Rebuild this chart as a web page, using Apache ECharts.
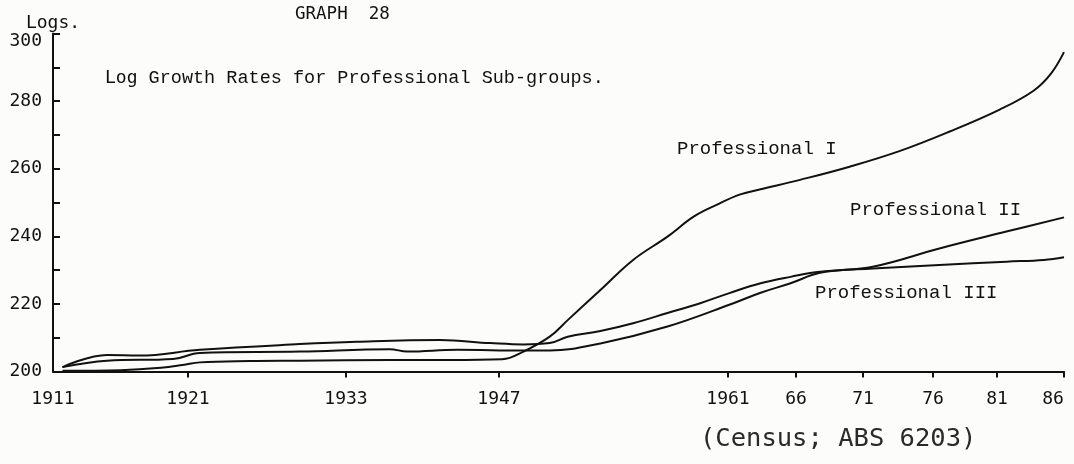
<!DOCTYPE html>
<html>
<head>
	<meta charset="utf-8">
	<title>Graph 28</title>
	<script src="https://cdn.jsdelivr.net/npm/echarts@6/dist/echarts.min.js"></script>
	<style>
		html, body { margin: 0; padding: 0; background: #fcfcfb; }
	</style>
</head>
<body>
	<div id="main" style="width: 1074px;height:464px;"></div>

	<script>
		// axis ticks, as printed on the graph
		var tickYears = [1911, 1921, 1933, 1947, 1961, 1966, 1971, 1976, 1981, 1986];
		var tickLabels = ['1911', '1921', '1933', '1947', '1961', '66', '71', '76', '81', '86'];
		// the hand drawn x axis is not evenly spaced, so keep its spacing here
		var tickPos = [0, 135, 293, 446, 675, 743, 810, 880, 944, 1011];

		// [year, log value]
		var profI = [
			[1911.7, 200.2], [1916, 200.4], [1919, 201.1], [1920.6, 201.9], [1921.9, 202.7],
			[1925.7, 203.1], [1929.5, 203.2], [1937, 203.4], [1942.5, 203.4], [1947.2, 203.6],
			[1948.5, 205.9], [1950.1, 210.3], [1951.2, 215.2], [1953.2, 224.1],
			[1955.2, 233.0], [1957.3, 239.9], [1958.9, 245.8], [1960.3, 249.3], [1961.9, 252.4],
			[1963.4, 253.9], [1966.3, 256.7], [1970.0, 260.6], [1973.6, 265.2], [1977.3, 271.0],
			[1981.2, 277.5], [1983.7, 283.0], [1985.0, 288.0], [1986.0, 294.5]
		];
		var profII = [
			[1911.7, 201.3], [1915.0, 203.2], [1919.9, 203.7], [1921.9, 205.5], [1929.5, 205.9],
			[1937.0, 206.6], [1938.6, 205.9], [1943.2, 206.4], [1948.5, 206.2], [1950.1, 206.2],
			[1953.2, 208.3], [1957.3, 213.3], [1961.4, 220.2], [1963.4, 223.3], [1965.6, 226.1],
			[1967.8, 229.2], [1971.7, 231.0], [1976.5, 236.4], [1981.7, 241.4], [1986.0, 245.6]
		];
		var profIII = [
			[1911.7, 201.3], [1915.0, 204.9], [1917.4, 204.7], [1921.9, 206.4], [1929.5, 208.1],
			[1934.0, 208.8], [1941.6, 209.3], [1946.2, 208.4], [1948.5, 208.0], [1950.1, 208.4],
			[1951.2, 210.3], [1953.2, 212.0], [1955.2, 214.3], [1957.3, 217.3], [1959.3, 220.2],
			[1961.1, 223.2], [1963.4, 226.1], [1965.6, 228.0], [1967.8, 229.5], [1971.7, 230.5],
			[1976.5, 231.5], [1981.7, 232.5], [1984.5, 233.0], [1986.0, 233.8]
		];

		function yearToPos(y) {
			for (var i = 1; i < tickYears.length; i++) {
				if (y <= tickYears[i]) {
					var t = (y - tickYears[i - 1]) / (tickYears[i] - tickYears[i - 1]);
					return tickPos[i - 1] + t * (tickPos[i] - tickPos[i - 1]);
				}
			}
			return tickPos[tickPos.length - 1];
		}

		function toAxis(rows) {
			return rows.map(function (r) { return [yearToPos(r[0]), r[1]]; });
		}

		var ink = '#111111';
		var sansMono = '"DejaVu Sans Mono", monospace';
		var typewriter = '"Liberation Mono", monospace';

		function curve(name, rows) {
			return {
				name: name,
				type: 'line',
				data: toAxis(rows),
				showSymbol: false,
				symbol: 'none',
				smooth: 0.4,
				lineStyle: { color: ink, width: 2 },
				silent: true
			};
		}

		var myChart = echarts.init(document.getElementById('main'));

		myChart.setOption({
			backgroundColor: '#fcfcfb',
			animation: false,
			grid: { left: 53, right: 10, top: 33.5, bottom: 92.5, containLabel: false, outerBoundsMode: 'none' },
			xAxis: {
				type: 'value',
				min: 0,
				max: tickPos[tickPos.length - 1],
				splitLine: { show: false },
				axisLine: { lineStyle: { color: ink, width: 2 } },
				axisTick: {
					customValues: tickPos.slice(1),
					length: 6,
					lineStyle: { color: ink, width: 2 }
				},
				axisLabel: {
					customValues: tickPos,
					margin: 19,
					color: ink,
					fontFamily: sansMono,
					fontSize: 18,
					formatter: function (v) {
						var i = tickPos.indexOf(v);
						if (i < 0) return '';
						if (i === tickPos.length - 1) return '{end|' + tickLabels[i] + '}';
						return tickLabels[i];
					},
					rich: {
						end: { fontFamily: sansMono, fontSize: 18, color: ink, padding: [0, 22, 0, 0] }
					}
				}
			},
			yAxis: {
				type: 'value',
				min: 200,
				max: 300,
				interval: 10,
				name: 'Logs.',
				nameLocation: 'end',
				nameGap: -8,
				nameTextStyle: { color: ink, fontFamily: sansMono, fontSize: 18 },
				splitLine: { show: false },
				axisLine: { lineStyle: { color: ink, width: 2 } },
				axisTick: { inside: true, length: 7, lineStyle: { color: ink, width: 2 } },
				axisLabel: {
					margin: 11,
					color: ink,
					fontFamily: sansMono,
					fontSize: 18,
					formatter: function (v) {
						if (v === 300) return '{top|300}';
						return v % 20 === 0 ? String(v) : '';
					},
					rich: {
						top: { fontFamily: sansMono, fontSize: 18, color: ink, padding: [16, 0, 0, 0] }
					}
				}
			},
			graphic: [
				{ type: 'text', x: 295, y: 14, style: { text: 'GRAPH  28', fill: ink, font: '17.5px ' + sansMono, verticalAlign: 'middle' } },
				{
					type: 'text', x: 105, y: 78,
					style: {
						text: '{a|Log} {b|Growth Rates for Professional Sub-groups.}',
						fill: ink, font: '18.5px ' + typewriter, verticalAlign: 'middle',
						rich: {
							a: { fontFamily: sansMono, fontSize: 18, fill: ink },
							b: { fontFamily: typewriter, fontSize: 18.5, fill: ink }
						}
					}
				},
				{ type: 'text', x: 677, y: 149, style: { text: 'Professional I', fill: ink, font: '19px ' + typewriter, verticalAlign: 'middle' } },
				{ type: 'text', x: 850, y: 210, style: { text: 'Professional II', fill: ink, font: '19px ' + typewriter, verticalAlign: 'middle' } },
				{ type: 'text', x: 815, y: 293, style: { text: 'Professional III', fill: ink, font: '19px ' + typewriter, verticalAlign: 'middle' } },
				{ type: 'text', x: 700, y: 439, style: { text: '(Census; ABS 6203)', fill: '#2a2a2a', font: '25.5px ' + sansMono, verticalAlign: 'middle' } }
			],
			series: [
				curve('Professional I', profI),
				curve('Professional II', profII),
				curve('Professional III', profIII)
			]
		});
	</script>
</body>
</html>
